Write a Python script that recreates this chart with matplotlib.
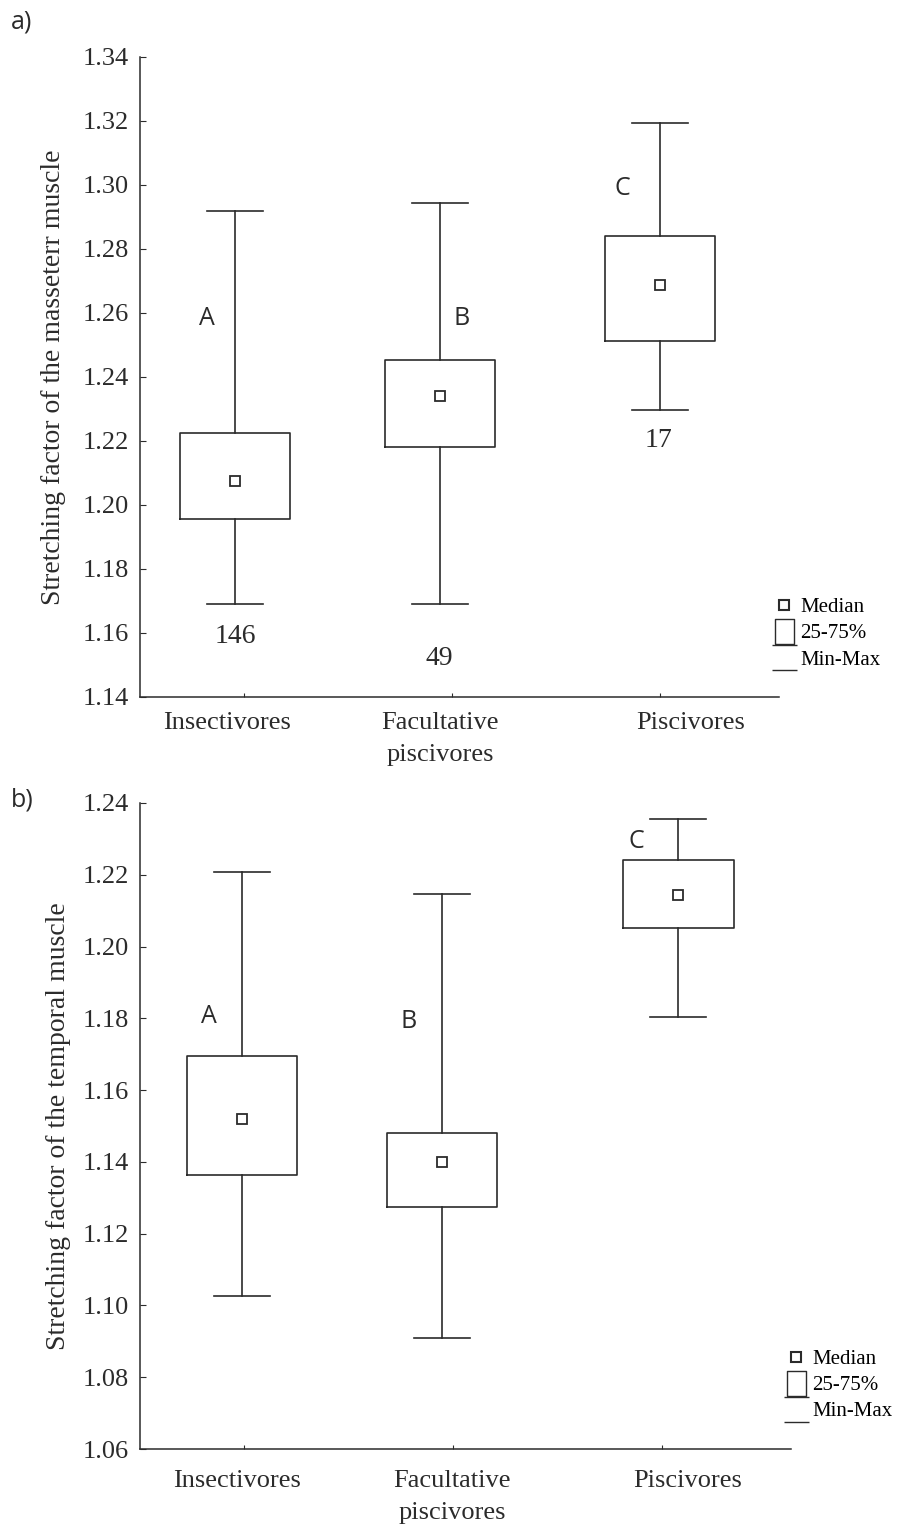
import matplotlib
matplotlib.use("Agg")
import matplotlib.pyplot as plt
from matplotlib.lines import Line2D
from matplotlib.path import Path

# Categories
groups = ["Insectivores", "Facultative\npiscivores", "Piscivores"]

# a) masseter muscle: min, q1, median, q3, max
mass_min = [1.169, 1.169, 1.2297]
mass_q1 = [1.1956, 1.2181, 1.2513]
mass_med = [1.2075, 1.2341, 1.2688]
mass_q3 = [1.2225, 1.2453, 1.2841]
mass_max = [1.2919, 1.2944, 1.3194]
mass_letters = ["A", "B", "C"]
mass_n = ["146", "49", "17"]

# b) temporal muscle
temp_min = [1.1026, 1.0909, 1.1804]
temp_q1 = [1.1363, 1.1274, 1.2052]
temp_med = [1.1519, 1.1400, 1.2144]
temp_q3 = [1.1695, 1.1480, 1.2241]
temp_max = [1.2208, 1.2146, 1.2355]
temp_letters = ["A", "B", "C"]

serif = "Liberation Serif"
sans = "Open Sans"
ink = "#2b2b2b"

# legend symbols
rect_marker = Path([(-0.38, -0.5), (0.38, -0.5), (0.38, 0.5), (-0.38, 0.5), (-0.38, -0.5)])
minmax_marker = Path([(-0.5, 0.5), (0.5, 0.5), (-0.5, -0.5), (0.5, -0.5)],
                     [Path.MOVETO, Path.LINETO, Path.MOVETO, Path.LINETO])


def draw_panel(ax, mn, q1, med, q3, mx, ylim, ylabel, labelpad, box_shift, label_shift, label_y):
    stats = []
    for i in range(len(groups)):
        stats.append(dict(whislo=mn[i], q1=q1[i], med=med[i], q3=q3[i],
                          whishi=mx[i], mean=med[i], fliers=[]))
    ticks_x = list(range(len(groups)))
    pos = [t + s for t, s in zip(ticks_x, box_shift)]
    ax.bxp(stats, positions=pos, widths=0.53, capwidths=0.27, showmeans=True,
           manage_ticks=False,
           boxprops=dict(color=ink, linewidth=1.2),
           whiskerprops=dict(color=ink, linewidth=1.2),
           capprops=dict(color=ink, linewidth=1.2),
           medianprops=dict(linewidth=0),
           meanprops=dict(marker="s", markersize=7, markerfacecolor="white",
                          markeredgecolor=ink, markeredgewidth=1.3))
    ax.set_ylim(*ylim)
    ticks = [round(ylim[0] + 0.02 * k, 2) for k in range(int(round((ylim[1] - ylim[0]) / 0.02)) + 1)]
    ax.set_yticks(ticks)
    ax.set_yticklabels(["%.2f" % t for t in ticks], fontfamily=serif, fontsize=19)
    ax.set_xticks(ticks_x)
    ax.set_xticklabels([])
    # category names, placed a little off the ticks as in the original
    for t, s, name in zip(ticks_x, label_shift, groups):
        ax.text(t + s, label_y, name, transform=ax.get_xaxis_transform(),
                ha="center", va="top", fontfamily=serif, fontsize=19,
                linespacing=1.55, color=ink)
    ax.spines["top"].set_visible(False)
    ax.spines["right"].set_visible(False)
    for s in ["left", "bottom"]:
        ax.spines[s].set_linewidth(1.1)
        ax.spines[s].set_color(ink)
    ax.tick_params(direction="in", length=4, width=0.8, colors=ink, pad=8)
    ax.tick_params(axis="x", length=3)
    ax.set_ylabel(ylabel, fontfamily=serif, fontsize=20, labelpad=labelpad, color=ink)

    handles = [
        Line2D([], [], ls="none", marker="s", markersize=7, markerfacecolor="white",
               markeredgecolor=ink, markeredgewidth=1.5),
        Line2D([], [], ls="none", marker=rect_marker, markersize=18, markerfacecolor="white",
               markeredgecolor=ink, markeredgewidth=1.0),
        Line2D([], [], ls="none", marker=minmax_marker, markersize=18,
               markeredgecolor=ink, markeredgewidth=1.0),
    ]
    ax.legend(handles, ["Median", "25-75%", "Min-Max"], loc="lower left",
              bbox_to_anchor=(0.972, 0.02), frameon=False, handlelength=0.8,
              handletextpad=0.4, labelspacing=0.32, borderaxespad=0.3,
              prop=dict(family=serif, size=15))


fig = plt.figure(figsize=(9.03, 15.28), dpi=100)

ax1 = fig.add_axes([0.155, 0.5439, 0.7076, 0.4188])
draw_panel(ax1, mass_min, mass_q1, mass_med, mass_q3, mass_max, (1.14, 1.34),
           "Stretching factor of the masseterr muscle", 12,
           [-0.043, -0.058, 0.0], [-0.08, -0.058, 0.144], -0.024)
ax1.set_xlim(-0.5, 2.57)
letter_x = [-0.18, 1.045, 1.82]
letter_y = [1.2584, 1.2584, 1.299]
for x, y, t in zip(letter_x, letter_y, mass_letters):
    ax1.text(x, y, t, ha="center", va="center", fontfamily=sans, fontsize=18, color=ink)
n_x = [-0.04, 0.94, 1.99]
n_y = [1.159, 1.1519, 1.22]
for x, y, t in zip(n_x, n_y, mass_n):
    ax1.text(x, y, t, ha="center", va="center", fontfamily=serif, fontsize=20, color=ink)

ax2 = fig.add_axes([0.155, 0.0517, 0.7209, 0.4228])
draw_panel(ax2, temp_min, temp_q1, temp_med, temp_q3, temp_max, (1.06, 1.24),
           "Stretching factor of the temporal muscle", 8,
           [-0.01, -0.053, 0.08], [-0.034, -0.005, 0.125], -0.033)
ax2.set_xlim(-0.5, 2.62)
letter_x = [-0.17, 0.787, 1.88]
letter_y = [1.1806, 1.179, 1.2294]
for x, y, t in zip(letter_x, letter_y, temp_letters):
    ax2.text(x, y, t, ha="center", va="center", fontfamily=sans, fontsize=18, color=ink)

fig.text(0.012, 0.9856, "a)", fontfamily=sans, fontsize=18, va="center", color=ink)
fig.text(0.012, 0.4765, "b)", fontfamily=sans, fontsize=18, va="center", color=ink)

fig.savefig("out.png", dpi=100)
